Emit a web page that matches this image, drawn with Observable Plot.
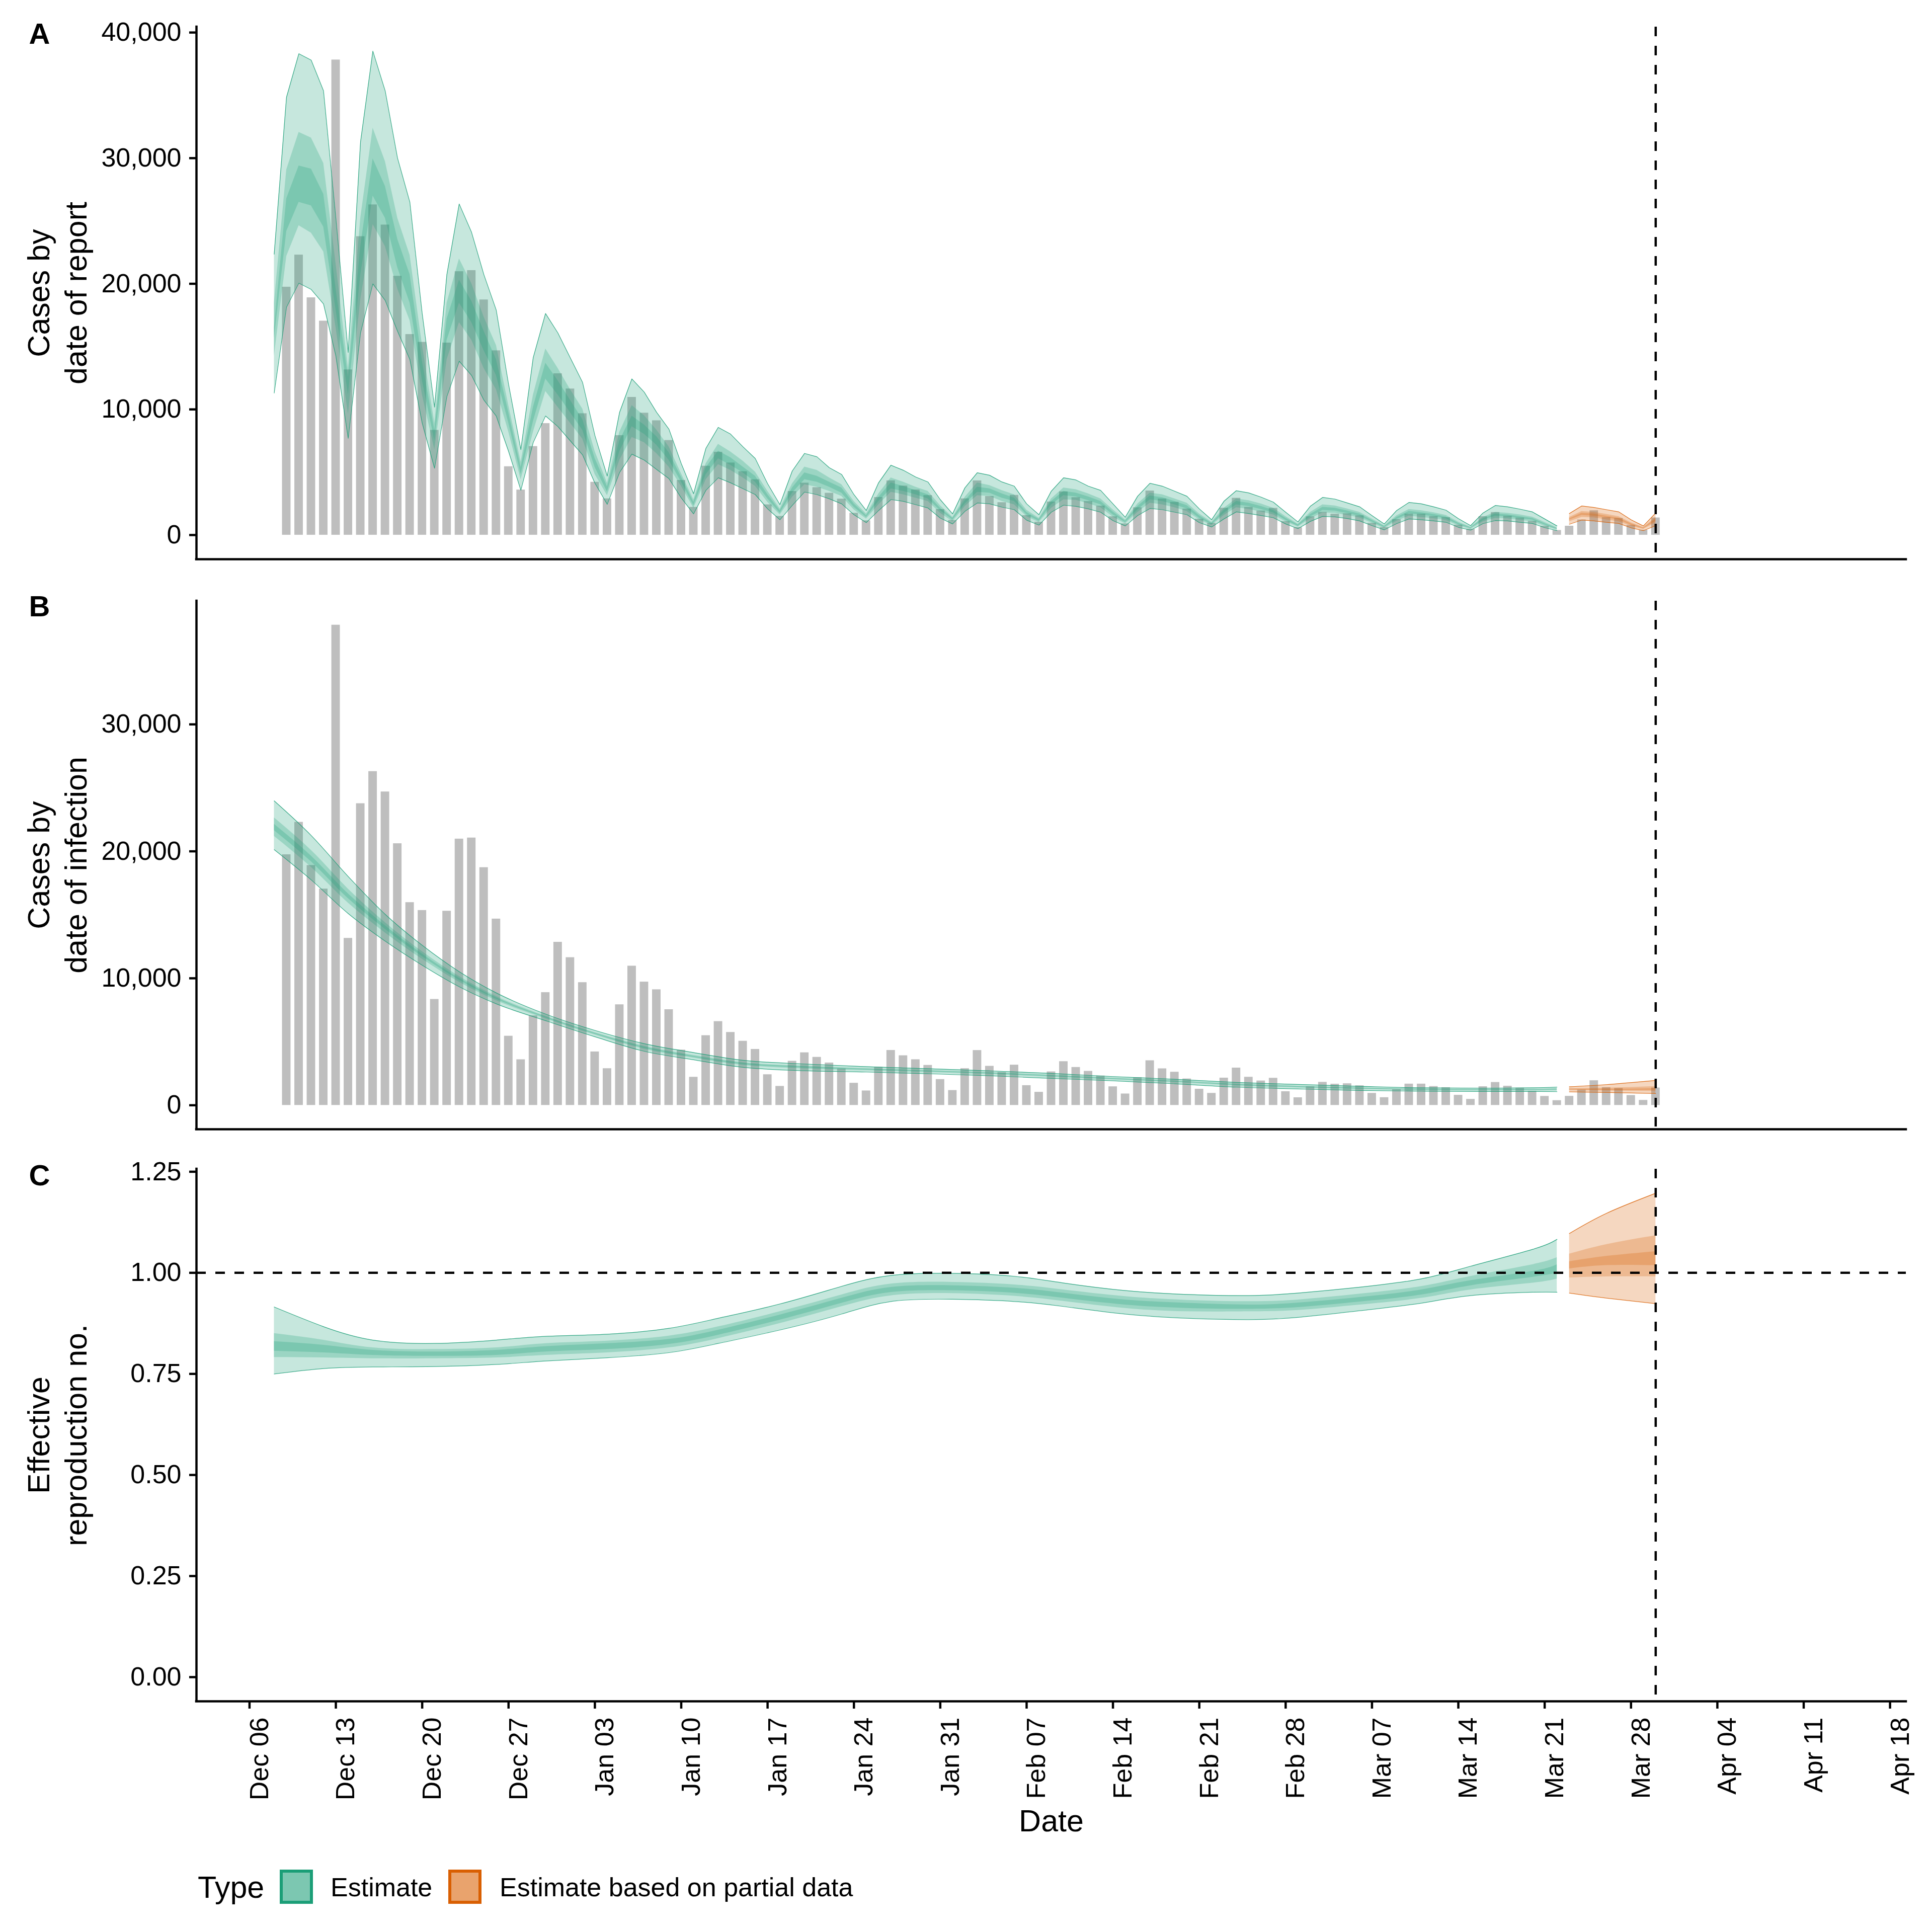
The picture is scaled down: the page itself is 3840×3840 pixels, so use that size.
<!DOCTYPE html>
<html>
<head>
<meta charset="utf-8">
<script src="https://cdn.jsdelivr.net/npm/d3@7"></script>
<script src="https://cdn.jsdelivr.net/npm/@observablehq/plot@0.6"></script>
<style>
html, body { margin: 0; padding: 0; background: #fff; }
#root { position: relative; width: 3840px; height: 3840px; overflow: hidden; background: #fff; }
#root > svg { position: absolute; left: 0; }
</style>
</head>
<body>
<div id="root"></div>
<script>
// ---------------- DATA ----------------
// Observed daily reported cases (grey bars), consecutive days from barStart
const barStart = "2020-12-09";
const reportedCases = [
  19743, 22300, 18898, 17041, 37827, 13160, 23765, 26295, 24691, 20613,
  15974, 15353, 8348, 15297, 20978, 21063, 18729, 14679, 5453, 3597,
  7057, 8885, 12851, 11640, 9671, 4214, 2895, 7927, 10970, 9715,
  9110, 7540, 4358, 2218, 5495, 6605, 5748, 5056, 4412, 2418,
  1500, 3480, 4146, 3787, 3342, 2876, 1747, 1142, 3002, 4331,
  3913, 3601, 3155, 2040, 1176, 2896, 4325, 3082, 2591, 3175,
  1560, 1036, 2644, 3448, 2990, 2684, 2318, 1468, 903, 2186,
  3520, 2884, 2618, 2086, 1276, 950, 2152, 2943, 2220, 1927,
  2140, 1083, 605, 1468, 1820, 1675, 1708, 1548, 950, 612,
  1242, 1681, 1681, 1488, 1400, 798, 478, 1475, 1808, 1515,
  1368, 1110, 711, 378, 718, 1216, 1946, 1400, 1335, 784,
  398, 1375
];

// Panel A: cases by date of report, estimate (daily from estStartA)
const estStartA = "2020-12-08";
const aU90 = [
  22360, 34850, 38310, 37803, 35356, 25229, 14540, 31277, 38520, 35356,
  30011, 26495, 17634, 10179, 20728, 26354, 24104, 20728, 17915, 12008,
  6803, 14117, 17634, 16087, 14117, 12149, 7929, 4693, 9757, 12430,
  11375, 9771, 8434, 5694, 3288, 6897, 8568, 8033, 7030, 6095,
  4090, 2419, 5092, 6496, 6229, 5360, 4825, 3221, 1951, 4157,
  5560, 5159, 4624, 4224, 2820, 1684, 3756, 4959, 4758, 4224,
  3889, 2486, 1617, 3488, 4558, 4384, 3889, 3555, 2486, 1416,
  3087, 4117, 3889, 3488, 3087, 2085, 1216, 2687, 3529, 3355,
  3020, 2620, 1818, 1042, 2285, 2994, 2860, 2553, 2245, 1550,
  882, 1951, 2593, 2486, 2245, 1978, 1310, 748, 1751, 2352,
  2245, 2058, 1844, 1283, 722
];
const aU50 = [
  18478, 29083, 32065, 31615, 29590, 21572, 13273, 25229, 32402, 29730,
  25229, 22275, 15103, 8913, 18478, 21994, 20025, 17353, 15103, 10320,
  5818, 11164, 14821, 13273, 11586, 10038, 6663, 4131, 8210, 10320,
  9504, 8367, 7030, 4892, 2820, 5694, 7231, 6629, 5894, 5025,
  3488, 2085, 4090, 5426, 5159, 4558, 4023, 2686, 1684, 3288,
  4558, 4224, 3823, 3488, 2352, 1416, 3020, 4157, 3956, 3555,
  3221, 1985, 1350, 2887, 3756, 3622, 3288, 2887, 2018, 1216,
  2486, 3355, 3221, 2887, 2553, 1684, 1042, 2152, 2887, 2753,
  2486, 2152, 1483, 882, 1818, 2419, 2325, 2085, 1818, 1283,
  748, 1550, 2050, 1951, 1791, 1577, 1042, 641, 1416, 1818,
  1751, 1617, 1443, 1016, 588
];
const aU20 = [
  16509, 26776, 29392, 29140, 27142, 19603, 12570, 22978, 29955, 27761,
  23541, 20728, 13837, 8350, 17212, 20306, 18619, 16227, 13977, 9757,
  5396, 10179, 13696, 12290, 10741, 9194, 6100, 3850, 7506, 9476,
  8768, 7833, 6563, 4624, 2619, 5360, 6696, 6162, 5426, 4692,
  3221, 1951, 3756, 4959, 4692, 4224, 3756, 2486, 1550, 3020,
  4157, 3889, 3555, 3221, 2152, 1350, 2753, 3823, 3689, 3288,
  2954, 1818, 1256, 2687, 3488, 3355, 3047, 2687, 1844, 1122,
  2285, 3127, 2994, 2687, 2352, 1550, 949, 1978, 2687, 2553,
  2285, 1978, 1350, 815, 1657, 2219, 2152, 1925, 1684, 1176,
  695, 1416, 1900, 1791, 1657, 1457, 949, 601, 1310, 1684,
  1617, 1483, 1336, 922, 535
];
const aL20 = [
  15665, 24188, 26495, 26214, 24526, 17916, 11164, 20728, 27001, 25229,
  21291, 18478, 12290, 7506, 15524, 18478, 16931, 14680, 12711, 8913,
  4834, 9054, 12430, 11164, 9757, 8350, 5396, 3428, 6663, 8632,
  8033, 7164, 5961, 4224, 2352, 4825, 6095, 5560, 4959, 4224,
  2887, 1750, 3355, 4424, 4224, 3823, 3355, 2218, 1416, 2686,
  3689, 3488, 3221, 2887, 1951, 1216, 2486, 3422, 3355, 2954,
  2686, 1617, 1122, 2419, 3154, 3047, 2753, 2419, 1617, 1016,
  2018, 2820, 2687, 2419, 2085, 1350, 855, 1751, 2419, 2285,
  2045, 1778, 1189, 722, 1457, 1978, 1925, 1724, 1510, 1056,
  615, 1256, 1700, 1617, 1483, 1310, 842, 548, 1176, 1523,
  1457, 1323, 1203, 815, 481
];
const aL50 = [
  14258, 22192, 24638, 24048, 22557, 16509, 9617, 18759, 24723, 22978,
  19603, 17071, 11164, 6803, 13977, 16931, 15524, 13273, 11586, 8210,
  4412, 8210, 11445, 10179, 8913, 7647, 4834, 3147, 5959, 7788,
  7365, 6496, 5426, 3889, 2152, 4424, 5627, 5159, 4558, 3889,
  2619, 1617, 3020, 4023, 3823, 3488, 3087, 2018, 1283, 2419,
  3422, 3221, 2954, 2686, 1750, 1082, 2285, 3154, 3087, 2686,
  2419, 1483, 1016, 2152, 2820, 2780, 2513, 2192, 1443, 909,
  1818, 2553, 2419, 2192, 1884, 1216, 775, 1577, 2192, 2058,
  1844, 1617, 1069, 655, 1310, 1778, 1751, 1577, 1377, 949,
  548, 1122, 1520, 1416, 1323, 1176, 748, 481, 1069, 1350,
  1310, 1189, 1082, 722, 428
];
const aL90 = [
  11305, 18140, 20053, 19547, 18393, 14258, 7703, 16087, 19997, 18674,
  16227, 13977, 8913, 5313, 11023, 13837, 12711, 10741, 9476, 6663,
  3568, 7366, 9476, 8632, 7506, 6382, 4131, 2444, 4975, 6438,
  5961, 5226, 4491, 2954, 1684, 3555, 4557, 4157, 3689, 3221,
  2085, 1216, 2352, 3422, 3221, 2887, 2486, 1617, 989, 1951,
  2820, 2686, 2419, 2152, 1350, 882, 1884, 2553, 2486, 2218,
  2018, 1183, 788, 1818, 2379, 2285, 2085, 1818, 1149, 722,
  1550, 2112, 2018, 1818, 1617, 989, 641, 1283, 1844, 1711,
  1550, 1377, 882, 508, 1082, 1483, 1443, 1310, 1122, 748,
  414, 909, 1283, 1216, 1122, 1016, 615, 387, 909, 1149,
  1122, 1016, 922, 588, 347
];
// Panel A: estimate based on partial data (daily from partialStartA)
const partialStartA = "2021-03-23";
const apU90 = [1711, 2312, 2192, 2018, 1844, 1216, 722, 1751];
const apU50 = [1416, 1884, 1818, 1657, 1483, 989, 615, 1416];
const apU20 = [1310, 1751, 1684, 1523, 1363, 909, 575, 1283];
const apL20 = [1203, 1577, 1523, 1377, 1216, 802, 521, 1122];
const apL50 = [1082, 1416, 1390, 1216, 1082, 722, 468, 989];
const apL90 = [856, 1189, 1122, 1016, 922, 575, 347, 748];

// Panel B: cases by date of infection
const bDates = ["2020-12-08","2020-12-11","2020-12-14","2020-12-17","2020-12-20","2020-12-23","2020-12-26","2020-12-30",
  "2021-01-03","2021-01-07","2021-01-11","2021-01-15","2021-01-20","2021-01-25","2021-01-30","2021-02-04",
  "2021-02-09","2021-02-14","2021-02-19","2021-02-24","2021-03-01","2021-03-06","2021-03-11","2021-03-16",
  "2021-03-20","2021-03-22"];
const bU90 = [23974, 21246, 18018, 15040, 12600, 10525, 8853, 7182, 5894, 4850, 4150, 3540, 3250, 3038, 2880, 2708, 2510, 2259, 2048, 1797, 1638, 1493, 1374, 1348, 1374, 1427];
const bU50 = [22646, 20078, 17034, 14388, 12108, 10156, 8583, 7022, 5735, 4658, 3945, 3371, 3089, 2903, 2753, 2590, 2383, 2149, 1938, 1687, 1520, 1392, 1290, 1264, 1281, 1317];
const bU20 = [22148, 19640, 16665, 14144, 11923, 10018, 8482, 6962, 5675, 4586, 3868, 3308, 3029, 2852, 2706, 2545, 2336, 2108, 1897, 1646, 1476, 1354, 1258, 1232, 1246, 1276];
const bL20 = [21651, 19187, 16287, 13869, 11718, 9863, 8369, 6894, 5610, 4508, 3795, 3235, 2960, 2797, 2654, 2495, 2284, 2065, 1850, 1597, 1430, 1311, 1224, 1198, 1209, 1229];
const bL50 = [21192, 18752, 15928, 13584, 11509, 9703, 8254, 6824, 5545, 4430, 3730, 3160, 2888, 2743, 2602, 2444, 2232, 2024, 1802, 1546, 1385, 1266, 1189, 1163, 1171, 1181];
const bL90 = [20131, 17749, 15098, 12926, 11025, 9334, 7989, 6663, 5395, 4250, 3580, 2985, 2721, 2616, 2483, 2325, 2113, 1929, 1691, 1427, 1282, 1163, 1110, 1084, 1084, 1070];
const bpDates = ["2021-03-23", "2021-03-26", "2021-03-30"];
const bpU90 = [1453, 1625, 1955];
const bpU50 = [1326, 1372, 1490];
const bpU20 = [1279, 1277, 1316];
const bpL20 = [1227, 1198, 1186];
const bpL50 = [1176, 1139, 1107];
const bpL90 = [1057, 1004, 925];

// Panel C: effective reproduction number
const cDates = ["2020-12-08","2020-12-12","2020-12-16","2020-12-21","2020-12-26","2020-12-30","2021-01-04","2021-01-09",
  "2021-01-13","2021-01-18","2021-01-23","2021-01-27","2021-02-01","2021-02-06","2021-02-10","2021-02-15",
  "2021-02-20","2021-02-25","2021-03-01","2021-03-06","2021-03-11","2021-03-15","2021-03-20","2021-03-22"];
const cU90 = [0.9154, 0.8668, 0.8336, 0.8253, 0.8336, 0.8428, 0.8482, 0.8627, 0.8876, 0.9229, 0.9665, 0.9934, 0.9988, 0.9914, 0.9748, 0.9561, 0.9465, 0.9436, 0.9499, 0.9644, 0.9851, 1.0163, 1.0578, 1.0827];
const cU50 = [0.8502, 0.8336, 0.8149, 0.8108, 0.8149, 0.8253, 0.8316, 0.8440, 0.8668, 0.9042, 0.9457, 0.9727, 0.9768, 0.9706, 0.9582, 0.9416, 0.9324, 0.9291, 0.9333, 0.9478, 0.9665, 0.9914, 1.0204, 1.0379];
const cU20 = [0.8303, 0.8212, 0.8087, 0.8046, 0.8087, 0.8178, 0.8253, 0.8357, 0.8585, 0.8959, 0.9374, 0.9644, 0.9685, 0.9623, 0.9499, 0.9333, 0.9250, 0.9208, 0.9258, 0.9395, 0.9582, 0.9810, 1.0038, 1.0204];
const cL20 = [0.8066, 0.8025, 0.7963, 0.7942, 0.7963, 0.8046, 0.8108, 0.8233, 0.8461, 0.8834, 0.9250, 0.9519, 0.9561, 0.9499, 0.9374, 0.9208, 0.9125, 0.9104, 0.9146, 0.9283, 0.9457, 0.9685, 0.9893, 0.9997];
const cL50 = [0.7909, 0.7900, 0.7880, 0.7880, 0.7900, 0.7963, 0.8025, 0.8149, 0.8378, 0.8751, 0.9167, 0.9436, 0.9490, 0.9424, 0.9299, 0.9125, 0.9042, 0.9042, 0.9075, 0.9208, 0.9374, 0.9582, 0.9748, 0.9851];
const cL90 = [0.7498, 0.7631, 0.7672, 0.7681, 0.7734, 0.7818, 0.7900, 0.8025, 0.8253, 0.8585, 0.8980, 0.9291, 0.9345, 0.9291, 0.9167, 0.8980, 0.8876, 0.8843, 0.8897, 0.9063, 0.9250, 0.9436, 0.9519, 0.9519];
const cpDates = ["2021-03-23", "2021-03-26", "2021-03-30"];
const cpU90 = [1.0972, 1.1470, 1.1969];
const cpU50 = [1.0466, 1.0702, 1.0923];
const cpU20 = [1.0279, 1.0412, 1.0528];
const cpL20 = [1.0101, 1.0183, 1.0183];
const cpL50 = [0.9880, 0.9905, 0.9905];
const cpL90 = [0.9499, 0.9374, 0.9237];

// Axes, reference lines, labels
const dateLimits = ["2020-12-08", "2021-04-13"];
const lastDataDate = "2021-03-30";
const xTickDates = ["2020-12-06","2020-12-13","2020-12-20","2020-12-27","2021-01-03","2021-01-10","2021-01-17",
  "2021-01-24","2021-01-31","2021-02-07","2021-02-14","2021-02-21","2021-02-28","2021-03-07","2021-03-14",
  "2021-03-21","2021-03-28","2021-04-04","2021-04-11","2021-04-18"];
const casesTicksA = [0, 10000, 20000, 30000, 40000];
const casesTicksB = [0, 10000, 20000, 30000];
const rTicks = [0, 0.25, 0.5, 0.75, 1, 1.25];
const rReference = [1];
const panelTitles = ["Cases by\ndate of report", "Cases by\ndate of infection", "Effective\nreproduction no."];
const panelTags = ["A", "B", "C"];
const xTitle = "Date";
const legendTitle = "Type";
const legendLabels = ["Estimate", "Estimate based on partial data"];
const typeColors = ["#1B9E77", "#D95F02"];

// ---------------- BUILD ----------------
const DAY = 864e5;
const parse = d3.utcParse("%Y-%m-%d");
const seqRows = (start, arrays) => arrays[0].map((_, i) => rowFrom(new Date(+parse(start) + i * DAY), arrays, i));
const listRows = (dates, arrays) => dates.map((d, i) => rowFrom(parse(d), arrays, i));
function rowFrom(date, [u90, u50, u20, l20, l50, l90], i) {
  return {date, u90: u90[i], u50: u50[i], u20: u20[i], l20: l20[i], l50: l50[i], l90: l90[i]};
}
const bars = reportedCases.map((v, i) => ({date: new Date(+parse(barStart) + i * DAY), value: v}));
const aEst = seqRows(estStartA, [aU90, aU50, aU20, aL20, aL50, aL90]);
const aPart = seqRows(partialStartA, [apU90, apU50, apU20, apL20, apL50, apL90]);
const bEst = listRows(bDates, [bU90, bU50, bU20, bL20, bL50, bL90]);
const bPart = listRows(bpDates, [bpU90, bpU50, bpU20, bpL20, bpL50, bpL90]);
const cEst = listRows(cDates, [cU90, cU50, cU20, cL20, cL50, cL90]);
const cPart = listRows(cpDates, [cpU90, cpU50, cpU20, cpL20, cpL50, cpL90]);

const xDomain = (() => {
  const a = +parse(dateLimits[0]), b = +parse(dateLimits[1]), pad = 0.05 * (b - a);
  return [new Date(a - pad), new Date(b + pad)];
})();
const expand = (max) => [-0.05 * max, 1.05 * max];
const yA = expand(d3.max([...reportedCases, ...aU90, ...apU90]));
const yB = expand(d3.max([...reportedCases, ...bU90, ...bpU90]));
const yC = expand(d3.max([...cU90, ...cpU90]));

const FONT = "'Liberation Sans', Arial, Helvetica, sans-serif";
const LW = 4.5;
const fmtCases = d3.format(",");
const fmtR = d3.format(".2f");

function ribbon(rows, color, curve) {
  return [
    Plot.areaY(rows, {x: "date", y1: "l90", y2: "u90", fill: color, fillOpacity: 0.25, curve}),
    Plot.areaY(rows, {x: "date", y1: "l50", y2: "u50", fill: color, fillOpacity: 0.25, curve}),
    Plot.areaY(rows, {x: "date", y1: "l20", y2: "u20", fill: color, fillOpacity: 0.25, curve}),
    Plot.line(rows, {x: "date", y: "u90", stroke: color, strokeWidth: 1.2, strokeOpacity: 0.85, curve}),
    Plot.line(rows, {x: "date", y: "l90", stroke: color, strokeWidth: 1.2, strokeOpacity: 0.85, curve})
  ];
}
function barMarks() {
  return Plot.rectY(bars, {
    x1: d => new Date(+d.date - 0.345 * DAY),
    x2: d => new Date(+d.date + 0.345 * DAY),
    y1: 0, y2: "value", fill: "#BEBEBE"
  });
}

function panel({top, height, marginTop, marginBottom, yDomain, yTicks, yFormat, marks, title, tag, tagDy, bottomAxis}) {
  const frameMarks = [
    Plot.ruleX([parse(lastDataDate)], {stroke: "black", strokeWidth: LW, strokeDasharray: "19,19"}),
    Plot.ruleY([yDomain[0]], {stroke: "black", strokeWidth: LW, strokeLinecap: "square"}),
    Plot.ruleX([xDomain[0]], {stroke: "black", strokeWidth: LW, strokeLinecap: "square"}),
    Plot.axisY({ticks: yTicks, tickFormat: yFormat, tickSize: 14, tickPadding: 16, strokeWidth: LW, fontSize: 52, label: null}),
    Plot.text([title], {frameAnchor: "left", dx: -279, rotate: -90, textAnchor: "middle", lineAnchor: "middle", lineHeight: 1.21, fontSize: 61}),
    Plot.text([tag], {frameAnchor: "top-left", dx: -333, dy: tagDy, textAnchor: "start", lineAnchor: "top", fontSize: 58, fontWeight: "bold"})
  ];
  const xAxisMarks = bottomAxis ? [
    Plot.axisX({ticks: xTickDates.map(parse), tickSize: 15, tickFormat: () => "", strokeWidth: LW, label: null}),
    Plot.text(xTickDates.map(parse), {x: d => d, text: d3.utcFormat("%b %d"), frameAnchor: "bottom", dy: 32, rotate: -90, textAnchor: "end", lineAnchor: "top", fontSize: 52}),
    Plot.text([xTitle], {frameAnchor: "bottom", dy: 258, textAnchor: "middle", lineAnchor: "bottom", fontSize: 61})
  ] : [];
  const svg = Plot.plot({
    width: 3840, height, marginLeft: 390, marginRight: 52, marginTop, marginBottom,
    style: {fontFamily: FONT, fontSize: "52px", background: "transparent", overflow: "visible"},
    x: {type: "utc", domain: xDomain, axis: bottomAxis ? undefined : null},
    y: {domain: yDomain},
    marks: [...marks, ...frameMarks, ...xAxisMarks]
  });
  svg.style.top = top + "px";
  return svg;
}

const root = document.getElementById("root");
root.appendChild(panel({
  top: 0, height: 1150, marginTop: 53, marginBottom: 39, yDomain: yA, yTicks: casesTicksA, yFormat: fmtCases,
  marks: [barMarks(), ...ribbon(aEst, typeColors[0], "linear"), ...ribbon(aPart, typeColors[1], "linear")],
  title: panelTitles[0], tag: panelTags[0], tagDy: -8, bottomAxis: false
}));
root.appendChild(panel({
  top: 1150, height: 1120, marginTop: 44, marginBottom: 26, yDomain: yB, yTicks: casesTicksB, yFormat: fmtCases,
  marks: [barMarks(), ...ribbon(bEst, typeColors[0], "monotone-x"), ...ribbon(bPart, typeColors[1], "monotone-x")],
  title: panelTitles[1], tag: panelTags[1], tagDy: -11, bottomAxis: false
}));
root.appendChild(panel({
  top: 2270, height: 1420, marginTop: 53, marginBottom: 309, yDomain: yC, yTicks: rTicks, yFormat: fmtR,
  marks: [...ribbon(cEst, typeColors[0], "natural"), ...ribbon(cPart, typeColors[1], "natural"),
    Plot.ruleY(rReference, {stroke: "black", strokeWidth: LW, strokeDasharray: "19,19"})],
  title: panelTitles[2], tag: panelTags[2], tagDy: -9, bottomAxis: true
}));

// Legend
const leg = d3.create("svg").attr("width", 3840).attr("height", 150).style("top", "3690px")
  .attr("font-family", FONT);
leg.append("text").attr("x", 393).attr("y", 82).attr("font-size", 61).text(legendTitle);
const keyX = [559, 894], labelX = [657, 993];
legendLabels.forEach((lab, i) => {
  const c = d3.color(typeColors[i]);
  leg.append("rect").attr("x", keyX[i]).attr("y", 29).attr("width", 60).attr("height", 62)
    .attr("fill", `rgba(${c.r},${c.g},${c.b},0.578)`).attr("stroke", typeColors[i]).attr("stroke-width", 6);
  leg.append("text").attr("x", labelX[i]).attr("y", 79).attr("font-size", 52).text(lab);
});
root.appendChild(leg.node());
</script>
</body>
</html>
